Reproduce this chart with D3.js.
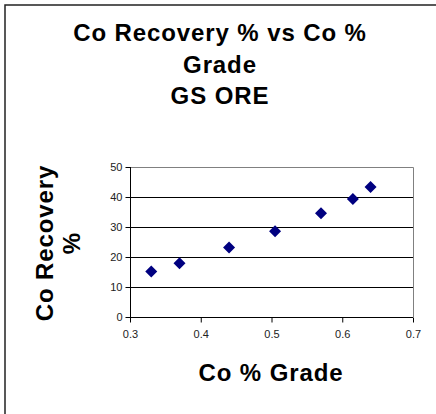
<!DOCTYPE html>
<html>
<head>
<meta charset="utf-8">
<script src="https://cdn.jsdelivr.net/npm/d3@7"></script>
<style>
  body { margin: 0; padding: 0; background: #fff; }
  svg { display: block; font-family: "Liberation Sans", Arial, sans-serif; }
  .big { font-size: 24px; font-weight: bold; letter-spacing: 0.9px; }
</style>
</head>
<body>
<script>
// data
var grade = [0.33, 0.37, 0.44, 0.505, 0.57, 0.615, 0.64];
var recovery = [15.2, 17.9, 23.2, 28.6, 34.6, 39.3, 43.3];
var xTicks = [0.3, 0.4, 0.5, 0.6, 0.7];
var yTicks = [0, 10, 20, 30, 40, 50];
var titleLines = ["Co Recovery % vs Co %", "Grade", "GS ORE"];
var yLabelLines = ["Co Recovery", "%"];
var xLabel = "Co % Grade";

var W = 436, H = 414;
var plot = {left: 130, right: 413, top: 167, bottom: 317};

var svg = d3.select("body").append("svg")
    .attr("width", W)
    .attr("height", H);

// outer chart border (runs off right and bottom)
svg.append("rect")
    .attr("x", 5).attr("y", 5)
    .attr("width", W + 10).attr("height", H + 10)
    .attr("fill", "#fff")
    .attr("stroke", "#222")
    .attr("stroke-width", 1.5);

var x = d3.scaleLinear().domain([0.3, 0.7]).range([plot.left, plot.right]);
var y = d3.scaleLinear().domain([0, 50]).range([plot.bottom, plot.top]);

// grid lines
svg.append("g").selectAll("line")
    .data(yTicks.slice(1, -1))
    .enter().append("line")
    .attr("x1", plot.left).attr("x2", plot.right)
    .attr("y1", function(d) { return Math.round(y(d)) + 0.5; })
    .attr("y2", function(d) { return Math.round(y(d)) + 0.5; })
    .attr("stroke", "#000").attr("stroke-width", 1);

// gray frame top + right
svg.append("path")
    .attr("d", "M" + plot.left + "," + (plot.top + 0.5) + "H" + (plot.right + 0.5) + "V" + plot.bottom)
    .attr("fill", "none").attr("stroke", "#808080").attr("stroke-width", 1);

var xAxis = svg.append("g")
    .attr("transform", "translate(0," + (plot.bottom + 0.5) + ")")
    .call(d3.axisBottom(x).tickValues(xTicks).tickSize(5).tickPadding(8).tickFormat(d3.format(".1f")));

var yAxis = svg.append("g")
    .attr("transform", "translate(" + (plot.left + 0.5) + ",0)")
    .call(d3.axisLeft(y).tickValues(yTicks).tickSize(5).tickPadding(3).tickFormat(d3.format("d")));

[xAxis, yAxis].forEach(function(a) {
  a.select(".domain").attr("stroke", "#000");
  a.selectAll(".tick line").attr("stroke", "#000");
  a.selectAll(".tick text")
    .attr("fill", "#222")
    .style("font-family", "'Liberation Sans', Arial, sans-serif")
    .style("font-size", "11px");
});
xAxis.select(".domain").attr("d", "M" + plot.left + ",0H" + plot.right);
yAxis.select(".domain").attr("d", "M0," + plot.top + "V" + plot.bottom);

// diamond markers
var pts = grade.map(function(g, i) { return {x: g, y: recovery[i]}; });
svg.append("g").selectAll("path")
    .data(pts)
    .enter().append("path")
    .attr("transform", function(d) { return "translate(" + x(d.x) + "," + y(d.y) + ")"; })
    .attr("d", "M0,-6L6,0L0,6L-6,0Z")
    .attr("fill", "#000080");

// title
var titleBase = [41, 73, 104];
svg.append("g").selectAll("text")
    .data(titleLines)
    .enter().append("text")
    .attr("class", "big")
    .attr("x", 220)
    .attr("y", function(d, i) { return titleBase[i]; })
    .attr("text-anchor", "middle")
    .text(function(d) { return d; });

// y label
var yLabelX = [53, 80];
svg.append("g").selectAll("text")
    .data(yLabelLines)
    .enter().append("text")
    .attr("class", "big")
    .attr("transform", function(d, i) { return "translate(" + yLabelX[i] + ",243) rotate(-90)"; })
    .attr("text-anchor", "middle")
    .text(function(d) { return d; });

// x label
svg.append("text")
    .attr("class", "big")
    .attr("x", 271)
    .attr("y", 381)
    .attr("text-anchor", "middle")
    .text(xLabel);
</script>
</body>
</html>
